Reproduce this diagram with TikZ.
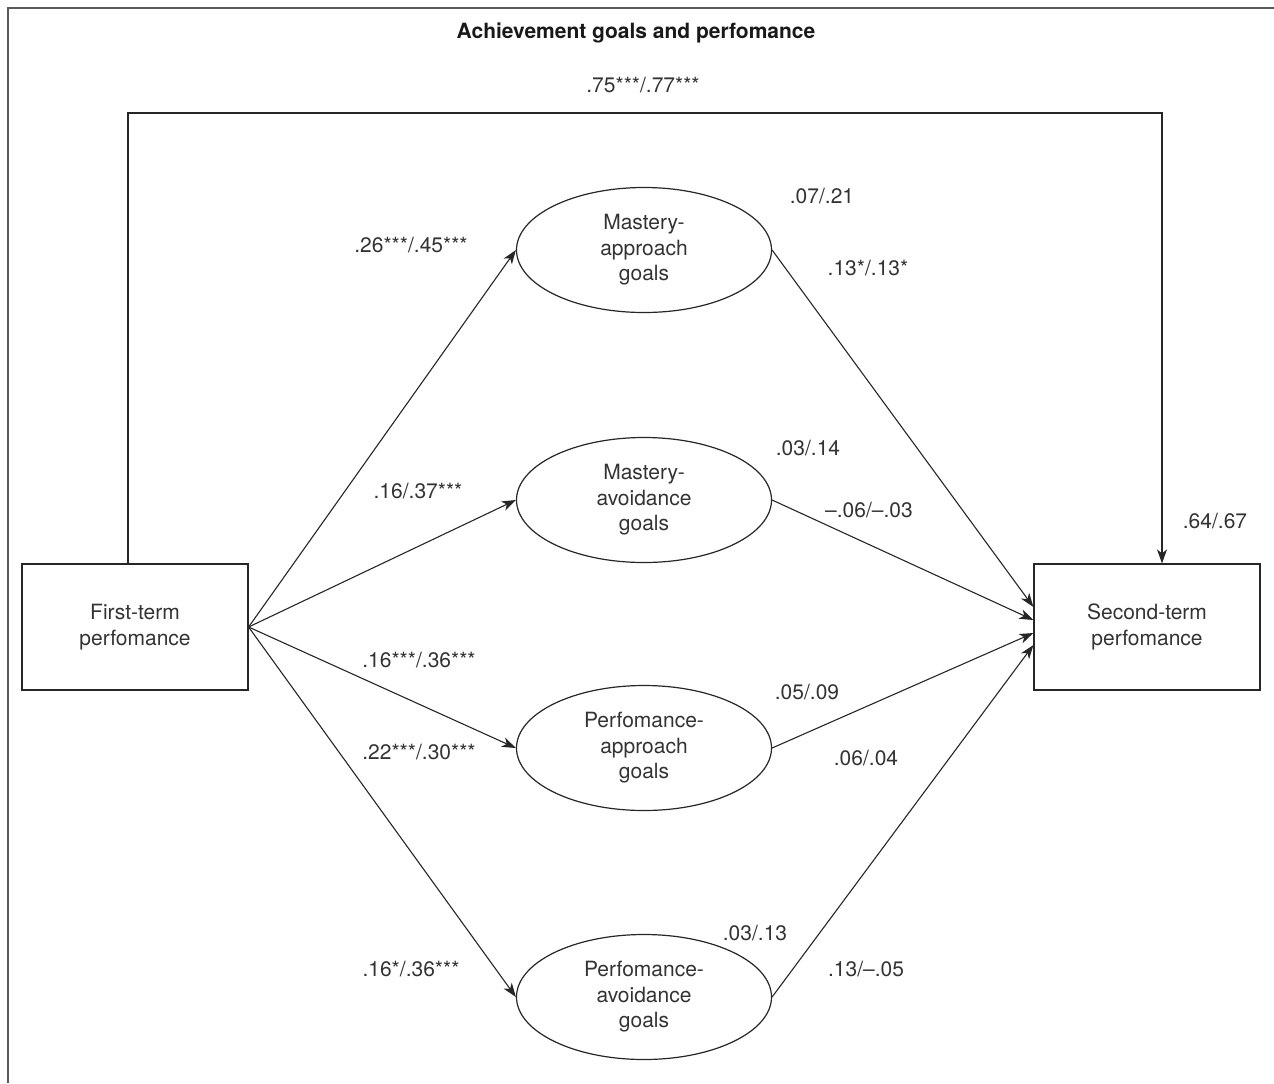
\documentclass[tikz,border=0pt]{standalone}
\usepackage{fontspec}
\setmainfont{TeX Gyre Heros}
\usetikzlibrary{arrows.meta,shapes.geometric,calc}
\definecolor{txt}{HTML}{333333}
\definecolor{frame}{HTML}{5A5A5A}
\begin{document}
\begin{tikzpicture}[x=0.5pt,y=-0.5pt,
  font=\fontsize{10.5}{12.75}\selectfont,
  boxnode/.style={draw=black!85,line width=0.6pt,rectangle,minimum width=113pt,minimum height=63pt,align=center,text=txt,inner sep=0pt},
  goal/.style={draw=black!85,line width=0.6pt,ellipse,minimum width=127.5pt,minimum height=62.5pt,align=center,text=txt,inner sep=0pt},
  arr/.style={draw=black!85,line width=0.55pt,-{Stealth[length=7pt,width=5pt,inset=2pt]}},
  lbl/.style={text=txt,inner sep=0pt}]
\useasboundingbox (0,0) rectangle (1274,1083);
\draw[frame,line width=1pt] (8,1083) -- (8,8) -- (1274,8);
\node[font=\fontsize{10.5}{12.75}\selectfont\bfseries,text=black!90] (title) at (636,33) {Achievement goals and perfomance};

\node[boxnode] (first) at (135,627) {First-term\\perfomance};
\node[boxnode] (second) at (1147,627) {Second-term\\perfomance};

\node[goal] (ma) at (644,250) {Mastery-\\approach\\goals};
\node[goal] (mav) at (644,500) {Mastery-\\avoidance\\goals};
\node[goal] (pa) at (644,748) {Perfomance-\\approach\\goals};
\node[goal] (pav) at (644,997) {Perfomance-\\avoidance\\goals};

\coordinate (tl) at (128,113);
\coordinate (tr) at (1162,113);
\draw[arr] ([xshift=-3.5pt]first.north) -- (tl) -- (tr) -- ([xshift=7.5pt]second.north);

\draw[arr] (first.east) -- (ma.west);
\draw[arr] (first.east) -- (mav.west);
\draw[arr] (first.east) -- (pa.west);
\draw[arr] (first.east) -- (pav.west);

\draw[arr] (ma.east) -- ([yshift=10pt]second.west);
\draw[arr] (mav.east) -- ([yshift=3.5pt]second.west);
\draw[arr] (pa.east) -- ([yshift=-3pt]second.west);
\draw[arr] (pav.east) -- ([yshift=-9pt]second.west);

\node[lbl] (l1) at (643,85) {.75***/.77***};
\node[lbl] (l2) at (822,196) {.07/.21};
\node[lbl] (l3) at (411,245) {.26***/.45***};
\node[lbl] (l4) at (868,268) {.13*/.13*};
\node[lbl] (l5) at (808,448) {.03/.14};
\node[lbl] (l6) at (418,491) {.16/.37***};
\node[lbl] (l7) at (869,510) {--.06/--.03};
\node[lbl] (l8) at (1215,521) {.64/.67};
\node[lbl] (l9) at (419,660) {.16***/.36***};
\node[lbl] (l10) at (807,692) {.05/.09};
\node[lbl] (l11) at (419,752) {.22***/.30***};
\node[lbl] (l12) at (866,758) {.06/.04};
\node[lbl] (l13) at (755,933) {.03/.13};
\node[lbl] (l14) at (411,969) {.16*/.36***};
\node[lbl] (l15) at (866,969) {.13/--.05};
\end{tikzpicture}
\end{document}
